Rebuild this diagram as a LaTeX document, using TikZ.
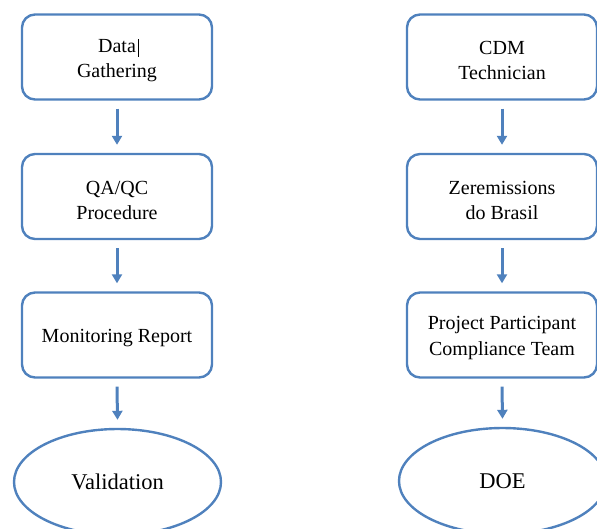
\documentclass[tikz,border=0pt]{standalone}
\usepackage{fontspec}
\setmainfont{Liberation Serif}
\usetikzlibrary{arrows.meta,shapes.geometric}
\definecolor{ofblue}{RGB}{79,129,189}
\tikzset{
  stepbox/.style={draw=ofblue, line width=2.4pt, rounded corners=13pt, minimum width=190pt, minimum height=85pt, inner sep=0pt},
  lbl/.style={align=center, font=\fontsize{20}{25}\selectfont, inner sep=0pt},
  endell/.style={draw=ofblue, line width=2.4pt, ellipse, minimum width=207pt, minimum height=106pt, font=\fontsize{22.5}{26}\selectfont, inner sep=0pt},
  flow/.style={draw=ofblue, line width=3pt, -{Triangle[length=9pt,width=10pt]}}
}
\begin{document}
\begin{tikzpicture}[x=1pt,y=-1pt]
\useasboundingbox (0,0) rectangle (597,528);
\clip (0,0) rectangle (597,528);
\node[stepbox] (a1) at (117,57) {};
\node[lbl] (a1t) at (117,60.5) {Data\\Gathering};
\node[stepbox] (a2) at (117,196.5) {};
\node[lbl] (a2t) at (117,200) {QA/QC\\Procedure};
\node[stepbox] (a3) at (117,335) {};
\node[lbl] (a3t) at (117,338) {Monitoring Report};
\node[endell] (a4) at (117.5,482) {Validation};
\node[stepbox] (b1) at (502,57) {};
\node[lbl] (b1t) at (502,60.5) {CDM\\Technician};
\node[stepbox] (b2) at (502,196.5) {};
\node[lbl] (b2t) at (502,200) {Zeremissions\\do Brasil};
\node[stepbox] (b3) at (502,335) {};
\node[lbl] (b3t) at (502,338) {Project Participant\\Compliance Team};
\node[endell] (b4) at (502.5,481) {DOE};
\coordinate (cur1) at (138,39);
\coordinate (cur2) at (138,57);
\draw[line width=0.7pt] (cur1) -- (cur2);
\draw[flow] ([yshift=-8pt]a1.south) -- ([yshift=8pt]a2.north);
\draw[flow] ([yshift=-8pt]a2.south) -- ([yshift=8pt]a3.north);
\draw[flow] ([yshift=-8pt]a3.south) -- ([yshift=8pt]a4.north);
\draw[flow] ([yshift=-8pt]b1.south) -- ([yshift=8pt]b2.north);
\draw[flow] ([yshift=-8pt]b2.south) -- ([yshift=8pt]b3.north);
\draw[flow] ([yshift=-8pt]b3.south) -- ([yshift=8pt]b4.north);
\end{tikzpicture}
\end{document}
